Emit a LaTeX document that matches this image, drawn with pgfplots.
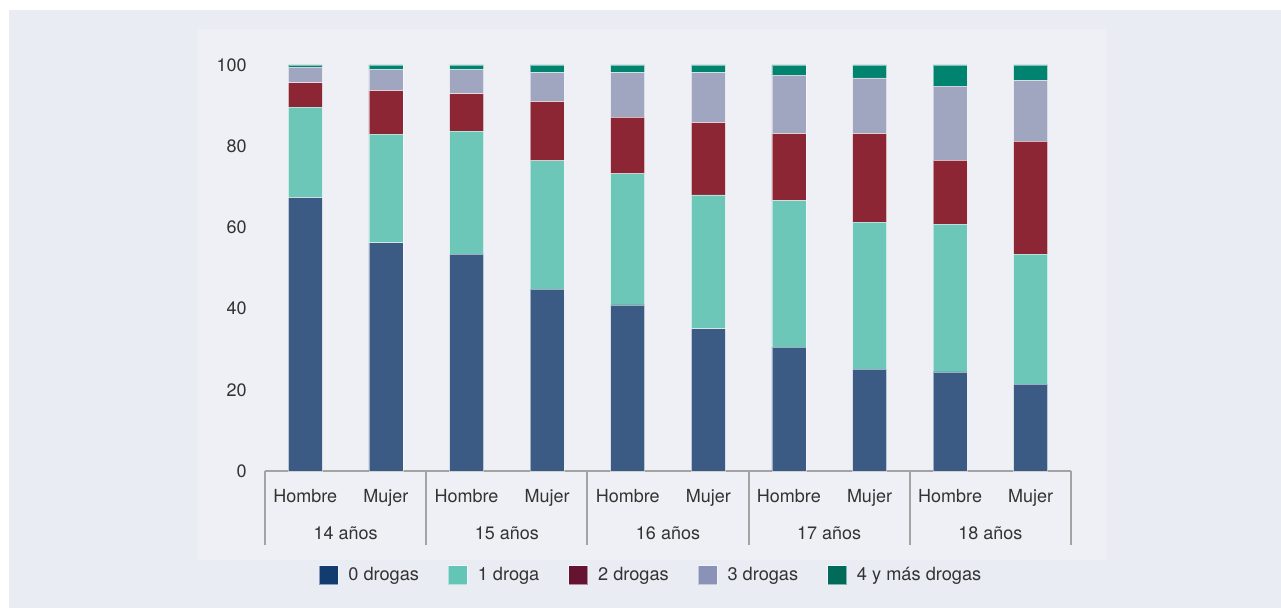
\documentclass[border=0pt]{standalone}
\usepackage{pgfplots}
\pgfplotsset{compat=1.18}
\usepackage{pgfplotstable}
\usepackage{fontspec}
\setmainfont{TeX Gyre Heros}
\definecolor{bgout}{HTML}{E9ECF3}
\definecolor{bgin}{HTML}{EEF0F5}
\definecolor{cA}{HTML}{3B5B85}
\definecolor{cB}{HTML}{6CC7B8}
\definecolor{cC}{HTML}{8C2634}
\definecolor{cD}{HTML}{A0A5C0}
\definecolor{cE}{HTML}{00836F}
\definecolor{lA}{HTML}{123C70}
\definecolor{lB}{HTML}{63C5B5}
\definecolor{lC}{HTML}{661331}
\definecolor{lD}{HTML}{8B92B8}
\definecolor{lE}{HTML}{006B58}
\definecolor{txt}{HTML}{333333}
\definecolor{axg}{HTML}{A3A3A3}

\pgfplotstableread{
x  d0   d1   d2   d3   d4
0  67.3 22.3 6.0  3.9  0.5
1  56.2 26.8 10.7 5.1  1.2
2  53.4 30.3 9.2  5.9  1.2
3  44.8 31.6 14.6 7.1  1.9
4  40.9 32.3 13.9 11.0 1.9
5  35.0 33.0 17.8 12.3 1.9
6  30.5 36.1 16.5 14.4 2.5
7  25.1 36.2 21.8 13.7 3.2
8  24.4 36.4 15.7 18.3 5.2
9  21.4 32.0 27.8 15.0 3.8
}\datatable

\begin{document}
\begin{tikzpicture}
\begin{scope}[x=0.5pt,y=0.5pt]
\useasboundingbox (0,0) rectangle (1281,608);
\fill[white] (0,0) rectangle (1281,608);
\fill[bgout] (9,0) rectangle (1281,598);
\fill[bgin] (197,48) rectangle (1107,579);
\end{scope}
\begin{axis}[
  at={(132.5pt,68.5pt)}, anchor=south west,
  scale only axis, width=403pt, height=203pt,
  xmin=-0.5, xmax=9.5, ymin=0, ymax=100,
  ybar stacked, bar width=17pt,
  axis x line=bottom, axis y line=left,
  y axis line style={draw=none},
  x axis line style={draw=axg, line width=1pt, -},
  major tick length=0pt,
  xtick={0,...,9},
  xticklabels={Hombre,Mujer,Hombre,Mujer,Hombre,Mujer,Hombre,Mujer,Hombre,Mujer},
  ytick={0,20,40,60,80,100},
  /pgf/number format/assume math mode=true,
  tick label style={font=\fontsize{9}{10}\selectfont, text=txt},
  xticklabel style={anchor=base, yshift=-16pt},
  yticklabel style={anchor=east, xshift=-5.6pt},
  clip=false,
  every axis plot/.append style={draw=white, draw opacity=0.5, line width=0.4pt},
  legend style={at={(0.48,-0.257)}, anchor=center, draw=none, fill=none,
    legend columns=5, font=\fontsize{9.1}{10}\selectfont, text=txt,
    /tikz/every even column/.append style={column sep=12.5pt}},
  legend image code/.code={\fill[#1] (0pt,-4.75pt) rectangle (9.5pt,4.75pt); \path (12.5pt,0pt);},
]
\addplot[fill=cA, forget plot] table[x=x,y=d0]{\datatable};
\addplot[fill=cB, forget plot] table[x=x,y=d1]{\datatable};
\addplot[fill=cC, forget plot] table[x=x,y=d2]{\datatable};
\addplot[fill=cD, forget plot] table[x=x,y=d3]{\datatable};
\addplot[fill=cE, forget plot] table[x=x,y=d4]{\datatable};
\addlegendimage{fill=lA}\addlegendentry{0 drogas}
\addlegendimage{fill=lB}\addlegendentry{1 droga}
\addlegendimage{fill=lC}\addlegendentry{2 drogas}
\addlegendimage{fill=lD}\addlegendentry{3 drogas}
\addlegendimage{fill=lE}\addlegendentry{4 y más drogas}
\foreach \s in {-0.5,1.5,3.5,5.5,7.5,9.5} {
  \edef\tmp{\noexpand\draw[axg, line width=1pt] (axis cs:\s,0) -- ++(0pt,-37pt);}
  \tmp
}
\foreach \c/\t in {0.5/14 años,2.5/15 años,4.5/16 años,6.5/17 años,8.5/18 años} {
  \edef\tmp{\noexpand\node[anchor=base, text=txt, font=\noexpand\fontsize{9}{10}\noexpand\selectfont, inner sep=0pt] at (axis cs:\c,0) [yshift=-34.5pt] {\t};}
  \tmp
}
\end{axis}
\end{tikzpicture}
\end{document}
